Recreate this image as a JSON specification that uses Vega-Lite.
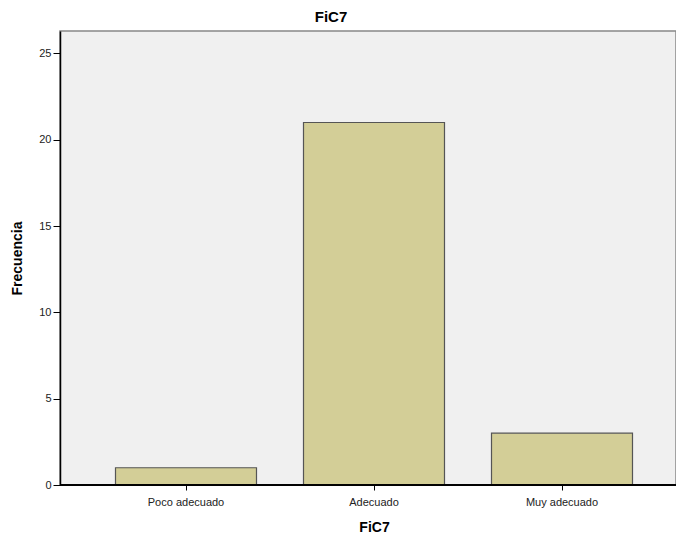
{
  "$schema": "https://vega.github.io/schema/vega-lite/v6.json",
  "autosize": "none",
  "padding": {"left": 60, "top": 31, "right": 0, "bottom": 54},
  "width": 616,
  "height": 454,
  "background": "white",
  "title": {"text": "FiC7", "anchor": "middle", "frame": "group", "dx": -37, "offset": 6, "font": "Liberation Sans", "fontSize": 15, "fontWeight": "bold", "color": "#000000"},
  "config": {
    "view": {"fill": "#f0f0f0", "stroke": "#888888", "strokeWidth": 1.5},
    "font": "Liberation Sans"
  },
  "data": {"values": [
    {"FiC7": "Poco adecuado", "Frecuencia": 1},
    {"FiC7": "Adecuado", "Frecuencia": 21},
    {"FiC7": "Muy adecuado", "Frecuencia": 3}
  ]},
  "layer": [
    {
      "mark": {"type": "bar", "fill": "#d3ce97", "stroke": "#555555", "strokeWidth": 1.2},
      "encoding": {
        "x": {"field": "FiC7", "type": "nominal", "sort": ["Poco adecuado", "Adecuado", "Muy adecuado"],
          "scale": {"range": [32, 596], "paddingInner": 0.25, "paddingOuter": 0.125},
          "axis": {"title": "FiC7", "titleFontSize": 14, "titleFontWeight": "bold", "titleColor": "#000", "titlePadding": 13,
            "labelAngle": 0, "labelFontSize": 11, "labelColor": "#222", "tickSize": 5, "tickColor": "#000", "domain": false, "labelPadding": 6}},
        "y": {"field": "Frecuencia", "type": "quantitative",
          "scale": {"domain": [0, 26.3], "nice": false},
          "axis": {"title": "Frecuencia", "values": [0, 5, 10, 15, 20, 25], "grid": false, "titleFontSize": 14, "titleFontWeight": "bold", "titleColor": "#000", "titlePadding": 14,
            "labelFontSize": 11, "labelColor": "#222", "tickSize": 7, "tickColor": "#000", "domainColor": "#000", "domainWidth": 1.5, "labelPadding": 2}}
      }
    },
    {
      "mark": {"type": "rule", "color": "#000000", "strokeWidth": 1.5},
      "encoding": {"y": {"datum": 0, "type": "quantitative"}}
    }
  ]
}
